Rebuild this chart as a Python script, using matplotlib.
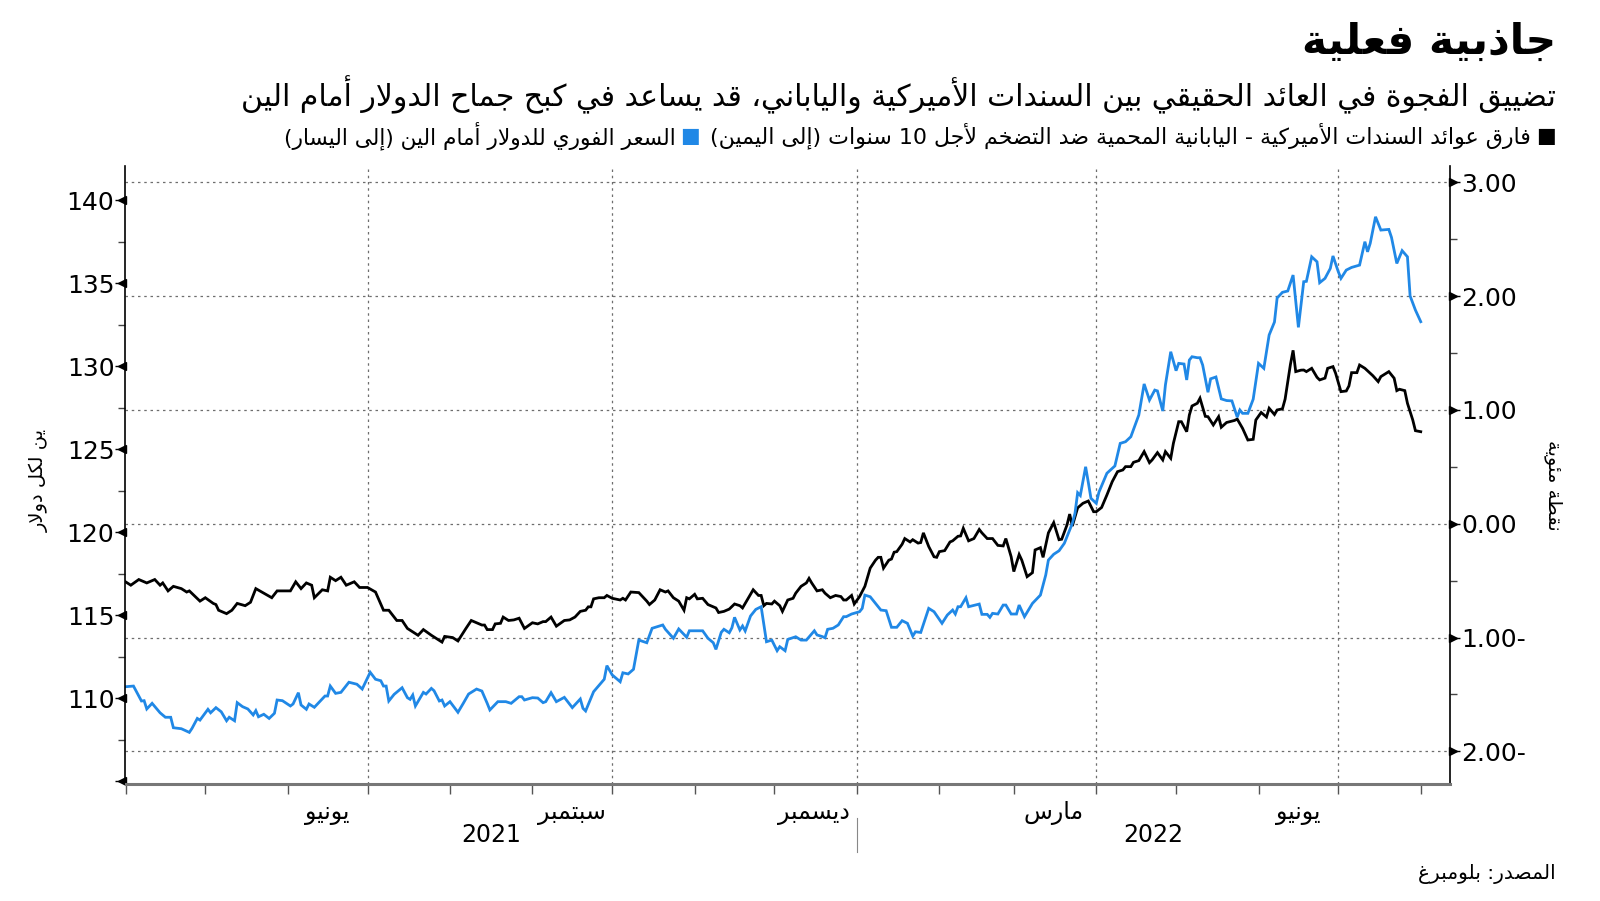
import re
import numpy as np
import pandas as pd
import matplotlib
matplotlib.use('Agg')
import matplotlib.pyplot as plt
import matplotlib.dates as mdates
import matplotlib.transforms as mtransforms
from matplotlib.ticker import FuncFormatter

plt.rcParams['font.family'] = ['DejaVu Sans']

# ---- datos ----
# yen por dolar (eje izquierdo)
yen_dates = [
    '2021-04-01', '2021-04-04', '2021-04-07', '2021-04-08', '2021-04-09', '2021-04-11', '2021-04-14', '2021-04-16',
    '2021-04-18', '2021-04-19', '2021-04-22', '2021-04-25', '2021-04-26', '2021-04-28', '2021-04-29', '2021-05-02',
    '2021-05-03', '2021-05-05', '2021-05-07', '2021-05-09', '2021-05-10', '2021-05-12', '2021-05-13', '2021-05-15',
    '2021-05-17', '2021-05-19', '2021-05-20', '2021-05-21', '2021-05-23', '2021-05-25', '2021-05-27', '2021-05-28',
    '2021-05-30', '2021-06-02', '2021-06-03', '2021-06-05', '2021-06-06', '2021-06-08', '2021-06-09', '2021-06-11',
    '2021-06-15', '2021-06-16', '2021-06-17', '2021-06-19', '2021-06-21', '2021-06-24', '2021-06-27', '2021-06-29',
    '2021-07-02', '2021-07-04', '2021-07-06', '2021-07-07', '2021-07-08', '2021-07-09', '2021-07-11', '2021-07-14',
    '2021-07-16', '2021-07-17', '2021-07-18', '2021-07-19', '2021-07-22', '2021-07-23', '2021-07-25', '2021-07-26',
    '2021-07-28', '2021-07-29', '2021-07-30', '2021-08-01', '2021-08-04', '2021-08-06', '2021-08-08', '2021-08-11',
    '2021-08-13', '2021-08-15', '2021-08-16', '2021-08-19', '2021-08-22', '2021-08-24', '2021-08-27', '2021-08-28',
    '2021-08-29', '2021-09-01', '2021-09-03', '2021-09-05', '2021-09-06', '2021-09-08', '2021-09-10', '2021-09-13',
    '2021-09-16', '2021-09-19', '2021-09-20', '2021-09-21', '2021-09-24', '2021-09-28', '2021-09-29', '2021-10-01',
    '2021-10-04', '2021-10-05', '2021-10-07', '2021-10-09', '2021-10-11', '2021-10-14', '2021-10-16', '2021-10-20',
    '2021-10-21', '2021-10-24', '2021-10-26', '2021-10-29', '2021-10-30', '2021-11-04', '2021-11-06', '2021-11-08',
    '2021-11-09', '2021-11-11', '2021-11-12', '2021-11-14', '2021-11-15', '2021-11-16', '2021-11-18', '2021-11-19',
    '2021-11-20', '2021-11-22', '2021-11-24', '2021-11-26', '2021-11-28', '2021-11-30', '2021-12-02', '2021-12-03',
    '2021-12-05', '2021-12-06', '2021-12-09', '2021-12-11', '2021-12-13', '2021-12-16', '2021-12-17', '2021-12-19',
    '2021-12-20', '2021-12-21', '2021-12-23', '2021-12-25', '2021-12-27', '2021-12-28', '2021-12-30', '2022-01-02',
    '2022-01-03', '2022-01-04', '2022-01-06', '2022-01-08', '2022-01-10', '2022-01-12', '2022-01-14', '2022-01-16',
    '2022-01-18', '2022-01-20', '2022-01-22', '2022-01-23', '2022-01-25', '2022-01-28', '2022-01-30', '2022-02-02',
    '2022-02-04', '2022-02-06', '2022-02-07', '2022-02-08', '2022-02-09', '2022-02-11', '2022-02-12', '2022-02-16',
    '2022-02-17', '2022-02-19', '2022-02-20', '2022-02-21', '2022-02-23', '2022-02-25', '2022-02-26', '2022-02-28',
    '2022-03-02', '2022-03-03', '2022-03-05', '2022-03-08', '2022-03-11', '2022-03-13', '2022-03-14', '2022-03-16',
    '2022-03-18', '2022-03-20', '2022-03-22', '2022-03-23', '2022-03-24', '2022-03-25', '2022-03-26', '2022-03-28',
    '2022-03-29', '2022-03-30', '2022-04-01', '2022-04-02', '2022-04-05', '2022-04-08', '2022-04-10', '2022-04-12',
    '2022-04-14', '2022-04-17', '2022-04-19', '2022-04-21', '2022-04-23', '2022-04-24', '2022-04-26', '2022-04-27',
    '2022-04-29', '2022-05-01', '2022-05-02', '2022-05-04', '2022-05-05', '2022-05-06', '2022-05-07', '2022-05-09',
    '2022-05-10', '2022-05-11', '2022-05-13', '2022-05-14', '2022-05-16', '2022-05-18', '2022-05-20', '2022-05-22',
    '2022-05-24', '2022-05-25', '2022-05-26', '2022-05-28', '2022-05-30', '2022-06-01', '2022-06-03', '2022-06-05',
    '2022-06-07', '2022-06-08', '2022-06-10', '2022-06-12', '2022-06-14', '2022-06-16', '2022-06-18', '2022-06-19',
    '2022-06-21', '2022-06-23', '2022-06-24', '2022-06-26', '2022-06-28', '2022-06-29', '2022-07-01', '2022-07-02',
    '2022-07-04', '2022-07-06', '2022-07-09', '2022-07-11', '2022-07-12', '2022-07-13', '2022-07-15', '2022-07-17',
    '2022-07-20', '2022-07-21', '2022-07-23', '2022-07-25', '2022-07-27', '2022-07-28', '2022-07-30', '2022-08-01',
]
yen_values = [
    110.68, 110.72, 109.82, 109.84, 109.34, 109.68, 109.11, 108.84, 108.84, 108.21, 108.15, 107.93, 108.17, 108.77,
    108.67, 109.32, 109.11, 109.42, 109.17, 108.63, 108.84, 108.63, 109.72, 109.48, 109.34, 108.98, 109.24, 108.87,
    109.02, 108.77, 109.08, 109.88, 109.84, 109.52, 109.64, 110.32, 109.58, 109.32, 109.64, 109.44, 110.12, 110.12,
    110.72, 110.28, 110.34, 110.95, 110.83, 110.54, 111.55, 111.13, 111.04, 110.72, 110.72, 109.82, 110.22, 110.62,
    110.02, 109.92, 110.18, 109.52, 110.34, 110.24, 110.58, 110.44, 109.82, 109.88, 109.52, 109.78, 109.14, 109.68,
    110.24, 110.54, 110.42, 109.68, 109.28, 109.78, 109.78, 109.68, 110.08, 110.08, 109.88, 110.02, 110.00, 109.72,
    109.78, 110.32, 109.78, 110.04, 109.42, 109.94, 109.38, 109.22, 110.38, 111.13, 111.95, 111.39, 110.98, 111.52,
    111.45, 111.73, 113.49, 113.33, 114.20, 114.40, 114.14, 113.60, 114.16, 113.66, 114.05, 114.05, 113.60, 113.33,
    112.93, 113.96, 114.14, 113.93, 114.23, 114.86, 114.10, 114.34, 114.04, 114.94, 115.34, 115.50, 113.39, 113.49,
    112.85, 113.09, 112.85, 113.53, 113.69, 113.49, 113.49, 114.05, 113.80, 113.70, 113.63, 114.14, 114.20, 114.40,
    114.90, 114.90, 115.06, 115.20, 115.40, 116.20, 116.10, 115.70, 115.30, 115.26, 114.26, 114.26, 114.66, 114.50,
    113.73, 113.99, 113.95, 115.40, 115.20, 114.50, 115.00, 115.30, 115.06, 115.50, 115.50, 116.04, 115.50, 115.66,
    115.04, 115.04, 114.86, 115.10, 115.06, 115.60, 115.60, 115.06, 115.06, 115.60, 114.90, 115.70, 116.20, 117.41,
    118.31, 118.66, 118.87, 119.32, 120.12, 120.52, 121.13, 122.37, 122.20, 123.93, 123.00, 122.03, 121.73, 122.40,
    123.54, 123.98, 125.34, 125.44, 125.74, 127.05, 128.92, 127.95, 128.55, 128.50, 127.29, 128.86, 130.86, 129.72,
    130.16, 130.12, 129.16, 130.36, 130.56, 130.50, 130.50, 130.06, 128.42, 129.23, 129.34, 128.02, 127.92, 127.90,
    126.92, 127.35, 127.15, 127.15, 128.00, 130.16, 129.86, 131.87, 132.65, 134.10, 134.44, 134.52, 135.48, 132.33,
    135.08, 135.10, 136.58, 136.28, 135.02, 135.28, 135.88, 136.63, 135.68, 135.28, 135.78, 135.94, 136.08, 137.49,
    136.88, 137.39, 138.99, 138.19, 138.23, 137.75, 136.18, 136.95, 136.58, 134.22, 133.37, 132.67,
]

# fark de rendimiento real 10 anos EEUU - Japon, puntos porcentuales (eje derecho)
spread_dates = [
    '2021-04-01', '2021-04-03', '2021-04-06', '2021-04-09', '2021-04-12', '2021-04-14', '2021-04-15', '2021-04-17',
    '2021-04-19', '2021-04-22', '2021-04-24', '2021-04-25', '2021-04-29', '2021-05-01', '2021-05-04', '2021-05-05',
    '2021-05-06', '2021-05-09', '2021-05-11', '2021-05-13', '2021-05-16', '2021-05-18', '2021-05-20', '2021-05-23',
    '2021-05-26', '2021-05-28', '2021-06-02', '2021-06-04', '2021-06-06', '2021-06-08', '2021-06-10', '2021-06-11',
    '2021-06-14', '2021-06-16', '2021-06-17', '2021-06-19', '2021-06-21', '2021-06-23', '2021-06-26', '2021-06-28',
    '2021-07-01', '2021-07-04', '2021-07-07', '2021-07-09', '2021-07-12', '2021-07-14', '2021-07-16', '2021-07-20',
    '2021-07-22', '2021-07-25', '2021-07-29', '2021-07-30', '2021-08-02', '2021-08-04', '2021-08-07', '2021-08-09',
    '2021-08-11', '2021-08-13', '2021-08-14', '2021-08-15', '2021-08-17', '2021-08-18', '2021-08-20', '2021-08-21',
    '2021-08-23', '2021-08-25', '2021-08-27', '2021-08-29', '2021-09-01', '2021-09-03', '2021-09-05', '2021-09-06',
    '2021-09-08', '2021-09-10', '2021-09-13', '2021-09-15', '2021-09-17', '2021-09-19', '2021-09-21', '2021-09-22',
    '2021-09-23', '2021-09-24', '2021-09-26', '2021-09-28', '2021-09-29', '2021-10-01', '2021-10-04', '2021-10-05',
    '2021-10-06', '2021-10-08', '2021-10-11', '2021-10-12', '2021-10-14', '2021-10-15', '2021-10-17', '2021-10-19',
    '2021-10-21', '2021-10-22', '2021-10-24', '2021-10-26', '2021-10-28', '2021-10-29', '2021-10-30', '2021-11-01',
    '2021-11-02', '2021-11-04', '2021-11-06', '2021-11-08', '2021-11-09', '2021-11-10', '2021-11-12', '2021-11-14',
    '2021-11-16', '2021-11-18', '2021-11-19', '2021-11-21', '2021-11-23', '2021-11-25', '2021-11-26', '2021-11-27',
    '2021-11-28', '2021-11-30', '2021-12-01', '2021-12-03', '2021-12-04', '2021-12-06', '2021-12-08', '2021-12-09',
    '2021-12-11', '2021-12-13', '2021-12-14', '2021-12-15', '2021-12-17', '2021-12-19', '2021-12-20', '2021-12-22',
    '2021-12-24', '2021-12-26', '2021-12-27', '2021-12-28', '2021-12-30', '2021-12-31', '2022-01-02', '2022-01-04',
    '2022-01-06', '2022-01-08', '2022-01-09', '2022-01-10', '2022-01-11', '2022-01-13', '2022-01-14', '2022-01-15',
    '2022-01-16', '2022-01-18', '2022-01-19', '2022-01-21', '2022-01-22', '2022-01-24', '2022-01-25', '2022-01-26',
    '2022-01-28', '2022-01-30', '2022-01-31', '2022-02-01', '2022-02-03', '2022-02-05', '2022-02-06', '2022-02-08',
    '2022-02-09', '2022-02-10', '2022-02-12', '2022-02-14', '2022-02-16', '2022-02-17', '2022-02-19', '2022-02-21',
    '2022-02-23', '2022-02-25', '2022-02-26', '2022-02-28', '2022-03-01', '2022-03-03', '2022-03-04', '2022-03-06',
    '2022-03-08', '2022-03-09', '2022-03-11', '2022-03-12', '2022-03-14', '2022-03-16', '2022-03-18', '2022-03-19',
    '2022-03-21', '2022-03-22', '2022-03-23', '2022-03-25', '2022-03-27', '2022-03-29', '2022-03-31', '2022-04-01',
    '2022-04-03', '2022-04-05', '2022-04-07', '2022-04-09', '2022-04-11', '2022-04-12', '2022-04-14', '2022-04-15',
    '2022-04-17', '2022-04-19', '2022-04-21', '2022-04-22', '2022-04-24', '2022-04-26', '2022-04-27', '2022-04-29',
    '2022-04-30', '2022-05-02', '2022-05-03', '2022-05-05', '2022-05-06', '2022-05-07', '2022-05-09', '2022-05-10',
    '2022-05-12', '2022-05-13', '2022-05-15', '2022-05-17', '2022-05-18', '2022-05-20', '2022-05-23', '2022-05-24',
    '2022-05-26', '2022-05-28', '2022-05-30', '2022-05-31', '2022-06-02', '2022-06-04', '2022-06-05', '2022-06-07',
    '2022-06-08', '2022-06-10', '2022-06-11', '2022-06-13', '2022-06-14', '2022-06-15', '2022-06-17', '2022-06-18',
    '2022-06-19', '2022-06-21', '2022-06-23', '2022-06-24', '2022-06-26', '2022-06-27', '2022-06-29', '2022-06-30',
    '2022-07-02', '2022-07-04', '2022-07-05', '2022-07-06', '2022-07-08', '2022-07-09', '2022-07-11', '2022-07-13',
    '2022-07-14', '2022-07-16', '2022-07-17', '2022-07-19', '2022-07-20', '2022-07-22', '2022-07-23', '2022-07-24',
    '2022-07-26', '2022-07-27', '2022-07-29', '2022-07-30', '2022-08-01',
]
spread_values = [
    -0.51, -0.54, -0.49, -0.52, -0.49, -0.54, -0.52, -0.59, -0.55, -0.57, -0.60, -0.59, -0.68, -0.65, -0.70, -0.71,
    -0.76, -0.79, -0.76, -0.70, -0.72, -0.69, -0.57, -0.61, -0.65, -0.59, -0.59, -0.51, -0.57, -0.52, -0.54, -0.65,
    -0.58, -0.59, -0.47, -0.50, -0.47, -0.54, -0.51, -0.56, -0.56, -0.60, -0.76, -0.76, -0.85, -0.85, -0.92, -0.98,
    -0.93, -0.98, -1.04, -0.99, -1.00, -1.03, -0.92, -0.85, -0.87, -0.89, -0.89, -0.93, -0.93, -0.88, -0.875, -0.82,
    -0.85, -0.845, -0.83, -0.92, -0.87, -0.88, -0.86, -0.86, -0.82, -0.90, -0.85, -0.845, -0.82, -0.77, -0.76, -0.73,
    -0.73, -0.66, -0.65, -0.65, -0.63, -0.655, -0.67, -0.655, -0.67, -0.60, -0.605, -0.63, -0.68, -0.71, -0.67, -0.58,
    -0.60, -0.59, -0.65, -0.68, -0.76, -0.65, -0.66, -0.62, -0.66, -0.655, -0.71, -0.73, -0.74, -0.78, -0.77, -0.75,
    -0.705, -0.72, -0.74, -0.66, -0.58, -0.63, -0.63, -0.72, -0.70, -0.705, -0.68, -0.72, -0.77, -0.67, -0.655, -0.61,
    -0.55, -0.52, -0.48, -0.52, -0.59, -0.58, -0.61, -0.65, -0.63, -0.64, -0.67, -0.67, -0.63, -0.705, -0.64, -0.55,
    -0.39, -0.32, -0.295, -0.295, -0.39, -0.32, -0.31, -0.25, -0.245, -0.18, -0.13, -0.16, -0.14, -0.17, -0.165, -0.08,
    -0.20, -0.29, -0.295, -0.245, -0.236, -0.16, -0.15, -0.11, -0.107, -0.04, -0.15, -0.13, -0.05, -0.08, -0.13, -0.13,
    -0.19, -0.195, -0.13, -0.29, -0.42, -0.27, -0.32, -0.465, -0.43, -0.23, -0.21, -0.295, -0.08, 0.01, -0.14, -0.136,
    -0.01, 0.085, -0.02, 0.14, 0.18, 0.20, 0.106, 0.106, 0.143, 0.253, 0.37, 0.458, 0.473, 0.502, 0.502, 0.54,
    0.555, 0.634, 0.537, 0.561, 0.625, 0.561, 0.634, 0.575, 0.707, 0.897, 0.897, 0.809, 0.956, 1.035, 1.059, 1.103,
    0.944, 0.941, 0.868, 0.941, 0.848, 0.89, 0.908, 0.92, 0.839, 0.736, 0.742, 0.912, 0.978, 0.938, 1.015, 0.96,
    1.0, 1.01, 1.095, 1.40, 1.524, 1.337, 1.35, 1.351, 1.337, 1.366, 1.287, 1.264, 1.28, 1.366, 1.381, 1.322,
    1.161, 1.167, 1.211, 1.328, 1.328, 1.395, 1.366, 1.322, 1.301, 1.249, 1.293, 1.322, 1.337, 1.279, 1.17, 1.182,
    1.17, 1.059, 0.912, 0.818, 0.809,
]

yen_ticks = [105, 110, 115, 120, 125, 130, 135, 140]
yen_tick_labels = ['', '110', '115', '120', '125', '130', '135', '140']
spread_ticks = [-2, -1, 0, 1, 2, 3]
spread_tick_labels = ['2.00-', '1.00-', '0.00', '1.00', '2.00', '3.00']
month_names = {3: 'مارس', 6: 'يونيو', 9: 'سبتمبر', 12: 'ديسمبر'}
years = ['2021', '2022']

title = 'جاذبية فعلية'
subtitle = 'تضييق الفجوة في العائد الحقيقي بين السندات الأميركية والياباني، قد يساعد في كبح جماح الدولار أمام الين'
legend_spread = 'فارق عوائد السندات الأميركية - اليابانية المحمية ضد التضخم لأجل 10 سنوات (إلى اليمين)'
legend_yen = 'السعر الفوري للدولار أمام الين (إلى اليسار)'
ylabel_left = 'ين لكل دولار'
ylabel_right = 'نقطة مئوية'
source = 'المصدر: بلومبرغ'

BLUE = '#2088e6'
GRID = '#6e6e6e'

# ---- texto arabe: formas contextuales + orden visual (matplotlib no hace shaping) ----
DUAL = {'ئ': 0xFE89, 'ب': 0xFE8F, 'ت': 0xFE95, 'ث': 0xFE99, 'ج': 0xFE9D, 'ح': 0xFEA1, 'خ': 0xFEA5,
        'س': 0xFEB1, 'ش': 0xFEB5, 'ص': 0xFEB9, 'ض': 0xFEBD, 'ط': 0xFEC1, 'ظ': 0xFEC5, 'ع': 0xFEC9,
        'غ': 0xFECD, 'ف': 0xFED1, 'ق': 0xFED5, 'ك': 0xFED9, 'ل': 0xFEDD, 'م': 0xFEE1, 'ن': 0xFEE5,
        'ه': 0xFEE9, 'ي': 0xFEF1}
RIGHT = {'آ': 0xFE81, 'أ': 0xFE83, 'ؤ': 0xFE85, 'إ': 0xFE87, 'ا': 0xFE8D, 'ة': 0xFE93, 'د': 0xFEA9,
         'ذ': 0xFEAB, 'ر': 0xFEAD, 'ز': 0xFEAF, 'و': 0xFEED, 'ى': 0xFEEF}
LAM_ALEF = {'آ': 0xFEF5, 'أ': 0xFEF7, 'إ': 0xFEF9, 'ا': 0xFEFB}
MIRROR = {'(': ')', ')': '('}


def ar(text):
    units = []
    i = 0
    while i < len(text):
        c = text[i]
        if c == 'ل' and i + 1 < len(text) and text[i + 1] in LAM_ALEF:
            units.append(('R', LAM_ALEF[text[i + 1]]))
            i += 2
            continue
        if c in DUAL:
            units.append(('D', DUAL[c]))
        elif c in RIGHT:
            units.append(('R', RIGHT[c]))
        elif c == 'ء':
            units.append(('N', 0xFE80))
        else:
            units.append(('X', c))
        i += 1
    glyphs = []
    for k, (kind, val) in enumerate(units):
        if kind == 'X':
            glyphs.append(MIRROR.get(val, val))
            continue
        if kind == 'N':
            glyphs.append(chr(val))
            continue
        prev_j = k > 0 and units[k - 1][0] == 'D'
        next_j = kind == 'D' and k + 1 < len(units) and units[k + 1][0] in 'DR'
        if kind == 'D':
            form = 3 if (prev_j and next_j) else 2 if next_j else 1 if prev_j else 0
        else:
            form = 1 if prev_j else 0
        glyphs.append(chr(val + form))
    visual = ''.join(reversed(glyphs))
    return re.sub(r'[0-9A-Za-z.]+', lambda m: m.group(0)[::-1], visual)


yen = pd.Series(yen_values, index=pd.to_datetime(yen_dates))
spread = pd.Series(spread_values, index=pd.to_datetime(spread_dates))

W, H = 1600, 901
fig = plt.figure(figsize=(16, 9.01), dpi=100)
ax = fig.add_axes([125.5 / W, 1 - 784 / H, (1450 - 125.5) / W, (784 - 166) / H])
ax2 = ax.twinx()
ax.set_zorder(ax2.get_zorder() + 1)
ax.patch.set_visible(False)

ax2.plot(spread.index, spread.values, color='black', lw=2.0, solid_joinstyle='miter')
ax.plot(yen.index, yen.values, color=BLUE, lw=2.0, solid_joinstyle='miter')

ax.set_xlim(pd.Timestamp('2021-04-01'), pd.Timestamp('2022-08-12'))
ax.set_ylim(104.82, 142.05)
ax2.set_ylim(-2.287, 3.144)

# rejilla: horizontal en los ticks del eje derecho, vertical en inicios de trimestre
for v in spread_ticks:
    ax2.axhline(v, color=GRID, lw=0.9, ls=(0, (2, 3)), zorder=0)
for d in pd.date_range('2021-07-01', '2022-07-01', freq='QS'):
    ax2.axvline(d, color=GRID, lw=0.9, ls=(0, (2, 3)), zorder=0)

# ejes y
ax.set_yticks(yen_ticks)
ax.set_yticklabels(yen_tick_labels)
ax.set_yticks(np.arange(107.5, 141, 5), minor=True)
ax.tick_params(axis='y', which='major', length=7, width=1, labelsize=18, pad=1, colors='black')
ax.tick_params(axis='y', which='minor', length=5, width=1, color='#444444')
ax2.set_yticks(spread_ticks)
ax2.set_yticklabels(spread_tick_labels)
ax2.set_yticks(np.arange(-1.5, 3, 1), minor=True)
ax2.tick_params(axis='y', which='major', length=7, width=1, labelsize=18, pad=1)
ax2.tick_params(axis='y', which='minor', length=5, width=1, color='#444444')

tri_l = mtransforms.offset_copy(ax.get_yaxis_transform(), fig=fig, x=-3, y=0, units='dots')
ax.plot([0] * len(yen_ticks), yen_ticks, ls='none', marker='<', ms=6, color='black',
        transform=tri_l, clip_on=False)
tri_r = mtransforms.offset_copy(ax2.get_yaxis_transform(), fig=fig, x=3, y=0, units='dots')
ax2.plot([1] * len(spread_ticks), spread_ticks, ls='none', marker='>', ms=6, color='black',
         transform=tri_r, clip_on=False)

# eje x
ax.xaxis.set_major_locator(mdates.MonthLocator(bymonth=[3, 6, 9, 12], bymonthday=16))
ax.xaxis.set_major_formatter(FuncFormatter(lambda x, p: ar(month_names[mdates.num2date(x).month])))
ax.xaxis.set_minor_locator(mdates.MonthLocator(bymonthday=1))
ax.tick_params(axis='x', which='major', length=0, labelsize=17, pad=12)
ax.tick_params(axis='x', which='minor', length=7, width=1, color='#555555')

for a in (ax, ax2):
    a.spines['top'].set_visible(False)
ax.spines['bottom'].set_color('#777777')
ax.spines['bottom'].set_linewidth(2.2)
ax2.spines['bottom'].set_visible(False)
ax.spines['left'].set_linewidth(1.2)
ax2.spines['right'].set_linewidth(1.2)
ax.spines['right'].set_visible(False)
ax2.spines['left'].set_visible(False)

# anos
x0, x1 = ax.get_xlim()
jan1 = mdates.date2num(pd.Timestamp('2022-01-01'))
xtrans = ax.get_xaxis_transform()
ax.text((x0 + jan1) / 2, -0.083, years[0], transform=xtrans, ha='center', va='center', fontsize=17)
ax.text((jan1 + x1) / 2, -0.083, years[1], transform=xtrans, ha='center', va='center', fontsize=17)
ax.plot([jan1, jan1], [-0.055, -0.110], transform=xtrans, color='#888888', lw=0.8, clip_on=False)

# etiquetas de ejes
fig.text(39 / W, 1 - 480 / H, ar(ylabel_left), rotation=90, ha='center', va='center', fontsize=14)
fig.text(1553 / W, 1 - 485 / H, ar(ylabel_right), rotation=270, ha='center', va='center', fontsize=14)

# titulos
xr = 1556 / W
fig.text(xr, 1 - 42 / H, ar(title), ha='right', va='center', fontsize=30.5, fontweight='bold')
fig.text(xr, 1 - 95 / H, ar(subtitle), ha='right', va='center', fontsize=21.5)

# leyenda
renderer = fig.canvas.get_renderer()
y_leg = 1 - 136 / H
sq = fig.text(xr, y_leg, '■', ha='right', va='center', fontsize=15, color='black')
bb = sq.get_window_extent(renderer)
t1 = fig.text((bb.x0 - 5) / W, y_leg, ar(legend_spread), ha='right', va='center', fontsize=15.9)
bb = t1.get_window_extent(renderer)
sq2 = fig.text((bb.x0 - 10) / W, y_leg, '■', ha='right', va='center', fontsize=15, color=BLUE)
bb = sq2.get_window_extent(renderer)
fig.text((bb.x0 - 5) / W, y_leg, ar(legend_yen), ha='right', va='center', fontsize=15.6)

fig.text(xr, 1 - 874 / H, ar(source), ha='right', va='center', fontsize=14.5)

fig.savefig('out.png', dpi=100)
